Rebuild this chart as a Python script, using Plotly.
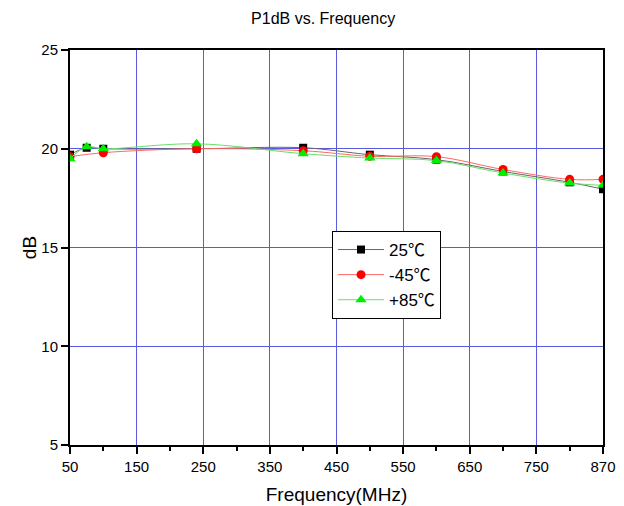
import plotly.graph_objects as go

freq = [50, 75, 100, 240, 400, 500, 600, 700, 800, 850]
p_25 = [19.7, 20.05, 20.0, 20.0, 20.05, 19.7, 19.45, 18.85, 18.3, 17.95]
p_m45 = [19.6, None, 19.8, 20.0, 19.9, 19.62, 19.6, 18.95, 18.45, 18.45]
p_p85 = [19.5, 20.1, 20.0, 20.25, 19.75, 19.53, 19.4, 18.77, 18.26, 18.15]

series_names = ["25", "-45", "+85"]
DEG = "<span style='font-family:Noto Sans CJK SC'>℃</span>"

x_tickvals = [50, 150, 250, 350, 450, 550, 650, 750, 850]
x_ticktext = ["50", "150", "250", "350", "450", "550", "650", "750", "870"]
x_minor = [100, 200, 300, 400, 500, 600, 700, 800]
y_tickvals = [5, 10, 15, 20, 25]

FONT = "Liberation Sans, Arial, sans-serif"
GRID = "rgb(90,90,225)"

fig = go.Figure()
fig.add_trace(go.Scatter(x=freq, y=p_25, name=series_names[0] + DEG, mode="lines+markers",
                         line=dict(color="#666666", width=1, shape="spline"),
                         marker=dict(symbol="square", size=8, color="black")))
fig.add_trace(go.Scatter(x=freq, y=p_m45, name=series_names[1] + DEG, mode="lines+markers",
                         connectgaps=True,
                         line=dict(color="#ff6666", width=1, shape="spline"),
                         marker=dict(symbol="circle", size=9, color="red")))
fig.add_trace(go.Scatter(x=freq, y=p_p85, name=series_names[2] + DEG, mode="lines+markers",
                         line=dict(color="#66e066", width=1, shape="spline"),
                         marker=dict(symbol="triangle-up", size=10, color="#00ee00")))

fig.update_layout(
    width=624, height=506,
    margin=dict(l=62, r=29, t=42, b=69),
    paper_bgcolor="white", plot_bgcolor="white",
    font=dict(family=FONT, color="black"),
    title=dict(text="P1dB vs. Frequency", x=0.505, xref="container", xanchor="center",
               y=1 - 10 / 506, yref="container", yanchor="middle", automargin=False,
               font=dict(size=16, family=FONT, color="black")),
    legend=dict(x=0.4916, y=0.5418, xanchor="left", yanchor="top",
                bgcolor="white", bordercolor="black", borderwidth=1,
                font=dict(size=17, family=FONT), itemwidth=46,
                tracegroupgap=0),
    showlegend=True,
)
fig.update_xaxes(
    range=[50, 850], tickmode="array", tickvals=x_tickvals, ticktext=x_ticktext,
    automargin=False,
    showgrid=True, gridcolor=GRID, gridwidth=1,
    showline=True, linecolor="black", linewidth=2, mirror=True,
    ticks="outside", ticklen=7, tickwidth=1.5, tickcolor="black",
    tickfont=dict(size=15, family=FONT),
    minor=dict(tickmode="array", tickvals=x_minor, ticks="outside", ticklen=4,
               tickwidth=1.5, tickcolor="black", showgrid=False),
    title=dict(text="Frequency(MHz)", font=dict(size=19, family=FONT), standoff=14),
    zeroline=False,
)
fig.update_yaxes(
    range=[5, 25], tickmode="array", tickvals=y_tickvals,
    automargin=False,
    showgrid=True, gridcolor=GRID, gridwidth=1,
    showline=True, linecolor="black", linewidth=2, mirror=True,
    ticks="outside", ticklen=7, tickwidth=1.5, tickcolor="black",
    tickfont=dict(size=15, family=FONT),
    title=dict(text="dB", font=dict(size=19, family=FONT), standoff=0),
    zeroline=False,
)
fig.write_html("out.html")
